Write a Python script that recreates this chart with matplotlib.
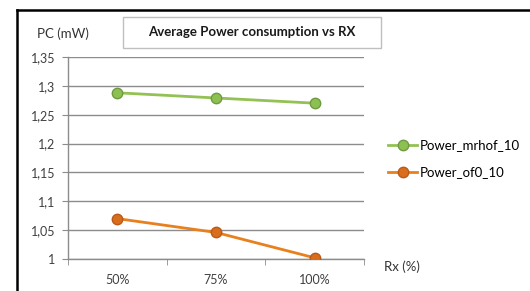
import matplotlib
matplotlib.use("Agg")
import matplotlib.pyplot as plt
from matplotlib.lines import Line2D
from matplotlib.patches import Rectangle

plt.rcParams['font.family'] = ['Lato', 'DejaVu Sans']

# data
categories = ["50%", "75%", "100%"]
power_mrhof = [1.288, 1.279, 1.270]
power_of0 = [1.070, 1.046, 1.002]
y_ticks = [1.0, 1.05, 1.1, 1.15, 1.2, 1.25, 1.3, 1.35]
y_labels = ["1", "1,05", "1,1", "1,15", "1,2", "1,25", "1,3", "1,35"]

W, H = 530, 291
fig = plt.figure(figsize=(W / 100, H / 100), dpi=100)

def fx(px):
    return px / W

def fy(py):
    return 1 - py / H

# plot area
ax = fig.add_axes([fx(68), fy(259), fx(364) - fx(68), fy(57) - fy(259)])
x = list(range(len(categories)))

grid_c = "#8c8c8c"
ax.plot(x, power_mrhof, color="#93c154", lw=2, marker="o", ms=7.5,
        mfc="#8cc152", mec="#6f9a42", mew=1, label="Power_mrhof_10", zorder=3)
ax.plot(x, power_of0, color="#e8801e", lw=2, marker="o", ms=7.5,
        mfc="#d96d1c", mec="#b85a1a", mew=1, label="Power_of0_10", zorder=3)

ax.set_xlim(-0.5, len(categories) - 0.5)
ax.set_ylim(1.0, 1.35)
ax.set_yticks(y_ticks)
ax.set_yticklabels(y_labels)
ax.set_xticks(x)
ax.set_xticklabels(categories)
ax.set_xticks([i - 0.5 for i in range(len(categories) + 1)], minor=True)
ax.tick_params(axis="x", which="major", length=0, pad=11, labelsize=9, colors="#404040")
ax.tick_params(axis="x", which="minor", length=4, color=grid_c, direction="out")
ax.tick_params(axis="y", length=4, color=grid_c, pad=5, labelsize=9, labelcolor="#404040")

ax.grid(axis="y", color=grid_c, lw=1)
ax.set_axisbelow(True)
for s in ["top", "right"]:
    ax.spines[s].set_visible(False)
for s in ["left", "bottom"]:
    ax.spines[s].set_color(grid_c)
    ax.spines[s].set_linewidth(1)

# title box
fig.patches.append(Rectangle((fx(123), fy(48)), fx(381) - fx(123), fy(17) - fy(48),
                             transform=fig.transFigure, fill=False,
                             ec="#bfbfbf", lw=1))
fig.text(fx(252), fy(32.5), "Average Power consumption vs RX", ha="center", va="center",
         fontsize=9.5, fontweight="bold", color="#1a1a1a")

fig.text(fx(63), fy(34), "PC (mW)", ha="center", va="center", fontsize=9.5, color="#333333")
fig.text(fx(384), fy(267), "Rx (%)", ha="left", va="center", fontsize=9.5, color="#333333")

# legend
handles, labels = ax.get_legend_handles_labels()
fig.legend(handles, labels, loc="upper left", bbox_to_anchor=(fx(383), fy(134)),
           frameon=False, fontsize=9.5, handlelength=2.2, labelspacing=1.15,
           handletextpad=0.2, borderaxespad=0)

# black border
fig.add_artist(Line2D([fx(17), 1], [fy(10), fy(10)], color="black", lw=1.8,
                      transform=fig.transFigure))
fig.add_artist(Line2D([fx(17), fx(17)], [fy(10), 0], color="black", lw=1.8,
                      transform=fig.transFigure))

fig.savefig("out.png", dpi=100)
